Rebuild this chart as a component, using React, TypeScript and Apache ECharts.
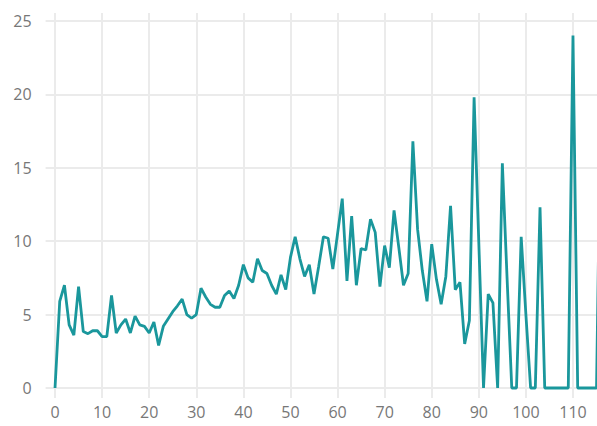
import React, { useEffect, useRef } from "react";
import * as echarts from "echarts";

const xValues: number[] = Array.from({ length: 117 }, (_, i) => i);
const yValues: number[] = [
  0, 5.9, 7.0, 4.3, 3.6, 6.9, 3.85, 3.7, 3.9, 3.9,
  3.5, 3.5, 6.3, 3.75, 4.3, 4.7, 3.75, 4.9, 4.3, 4.2,
  3.75, 4.5, 2.9, 4.2, 4.7, 5.2, 5.6, 6.05, 5.0, 4.75,
  5.0, 6.8, 6.2, 5.7, 5.5, 5.5, 6.3, 6.6, 6.1, 7.0,
  8.4, 7.5, 7.2, 8.8, 8.0, 7.8, 7.0, 6.4, 7.7, 6.7,
  8.9, 10.3, 8.8, 7.6, 8.4, 6.4, 8.3, 10.3, 10.2, 8.1,
  10.5, 12.9, 7.3, 11.7, 7.0, 9.5, 9.4, 11.5, 10.6, 6.9,
  9.7, 8.2, 12.1, 9.6, 7.0, 7.8, 16.8, 10.8, 8.0, 5.9,
  9.8, 7.4, 5.7, 7.6, 12.4, 6.7, 7.2, 3.0, 4.6, 19.8,
  9.9, 0, 6.4, 5.8, 0, 15.3, 7.5, 0, 0, 10.3,
  5.0, 0, 0, 12.3, 0, 0, 0, 0, 0, 0,
  24.0, 0, 0, 0, 0, 0, 22,
];
const xTicks: number[] = [0, 10, 20, 30, 40, 50, 60, 70, 80, 90, 100, 110];
const yTicks: number[] = [0, 5, 10, 15, 20, 25];

export default function App() {
  const ref = useRef<HTMLDivElement>(null);
  useEffect(() => {
    if (!ref.current) return;
    const chart = echarts.init(ref.current, undefined, { renderer: "svg" });
    const gridColor = "#ebebeb";
    const labelStyle = {
      color: "#777777",
      fontFamily: "Open Sans",
      fontSize: 16,
    };
    chart.setOption({
      animation: false,
      backgroundColor: "#ffffff",
      grid: { left: 45.6, right: 0, top: 13, bottom: 28, containLabel: false },
      xAxis: {
        type: "value",
        min: -2,
        max: 115.1,
        axisLine: { show: false },
        axisTick: { show: false, customValues: xTicks },
        axisLabel: { ...labelStyle, margin: 6, customValues: xTicks },
        splitLine: { show: true, lineStyle: { color: gridColor, width: 2 } },
      },
      yAxis: {
        type: "value",
        min: -0.68,
        max: 25.54,
        axisLine: { show: false },
        axisTick: { show: false, customValues: yTicks },
        axisLabel: { ...labelStyle, margin: 14, customValues: yTicks },
        splitLine: { show: true, lineStyle: { color: gridColor, width: 2 } },
      },
      series: [
        {
          type: "line",
          data: xValues.map((x, i) => [x, yValues[i]]),
          showSymbol: false,
          symbol: "none",
          clip: true,
          lineStyle: { color: "#1a979c", width: 2.8 },
        },
      ],
    });
    return () => chart.dispose();
  }, []);
  return (
    <div
      ref={ref}
      style={{ position: "absolute", left: 0, top: 0, width: 597, height: 426 }}
    />
  );
}
